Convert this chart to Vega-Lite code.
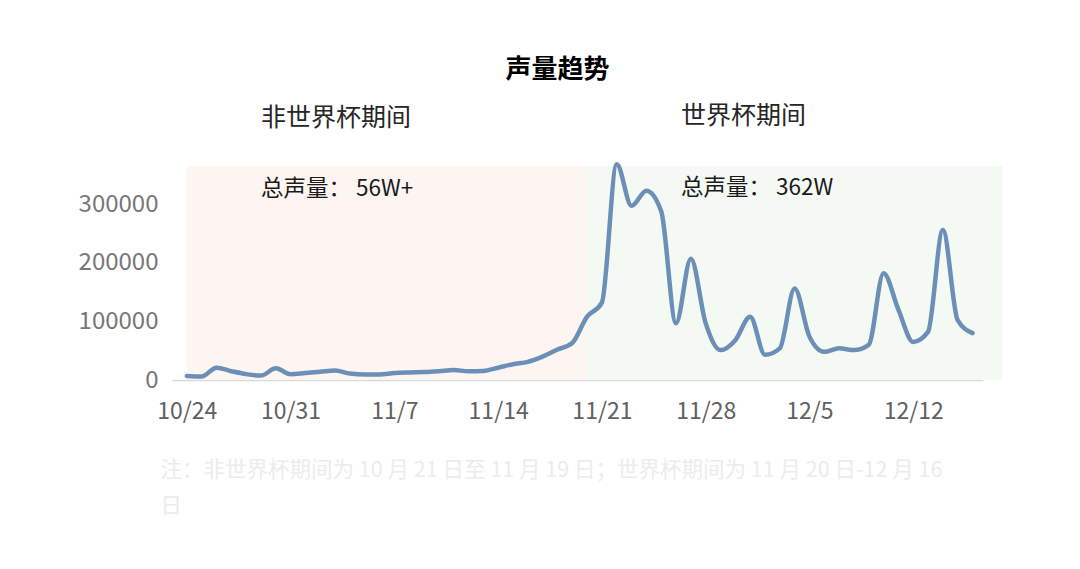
{
  "$schema": "https://vega.github.io/schema/vega-lite/v6.json",
  "width": 811,
  "height": 214,
  "autosize": {"type": "none"},
  "padding": {"left": 172, "top": 166, "right": 97, "bottom": 189},
  "background": "white",
  "title": {
    "text": "声量趋势",
    "font": "Noto Sans CJK SC",
    "fontSize": 26,
    "fontWeight": "bold",
    "color": "#000000",
    "anchor": "middle",
    "frame": "group",
    "baseline": "bottom",
    "dx": -20,
    "offset": -5
  },
  "config": {
    "view": {"stroke": null},
    "font": "Noto Sans CJK SC"
  },
  "datasets": {
    "periods": [
      {"period": "非世界杯期间", "start": "2022-10-24", "end": "2022-11-20"},
      {"period": "世界杯期间", "start": "2022-11-20", "end": "2022-12-18"}
    ],
    "notes": [
      {"date": "2022-10-29T00:00:00Z", "value": 447000, "label": "非世界杯期间", "kind": "head"},
      {"date": "2022-11-26T08:00:00Z", "value": 450000, "label": "世界杯期间", "kind": "head"},
      {"date": "2022-10-29T00:00:00Z", "value": 326000, "label": "总声量： 56W+", "kind": "total"},
      {"date": "2022-11-26T08:00:00Z", "value": 328000, "label": "总声量： 362W", "kind": "total"}
    ],
    "volume": [
      {"date": "2022-10-24", "volume": 7000},
      {"date": "2022-10-25", "volume": 6000},
      {"date": "2022-10-26", "volume": 21000},
      {"date": "2022-10-27", "volume": 15000},
      {"date": "2022-10-28", "volume": 10000},
      {"date": "2022-10-29", "volume": 7500},
      {"date": "2022-10-30", "volume": 20000},
      {"date": "2022-10-31", "volume": 10000},
      {"date": "2022-11-01", "volume": 12000},
      {"date": "2022-11-02", "volume": 14000},
      {"date": "2022-11-03", "volume": 16000},
      {"date": "2022-11-04", "volume": 11000},
      {"date": "2022-11-05", "volume": 9500},
      {"date": "2022-11-06", "volume": 9500},
      {"date": "2022-11-07", "volume": 12000},
      {"date": "2022-11-08", "volume": 13000},
      {"date": "2022-11-09", "volume": 13500},
      {"date": "2022-11-10", "volume": 15000},
      {"date": "2022-11-11", "volume": 17000},
      {"date": "2022-11-12", "volume": 15000},
      {"date": "2022-11-13", "volume": 15500},
      {"date": "2022-11-14", "volume": 21000},
      {"date": "2022-11-15", "volume": 27000},
      {"date": "2022-11-16", "volume": 31000},
      {"date": "2022-11-17", "volume": 40000},
      {"date": "2022-11-18", "volume": 52000},
      {"date": "2022-11-19", "volume": 63000},
      {"date": "2022-11-20", "volume": 108000},
      {"date": "2022-11-21", "volume": 132000},
      {"date": "2022-11-22", "volume": 368000},
      {"date": "2022-11-23", "volume": 297000},
      {"date": "2022-11-24", "volume": 323000},
      {"date": "2022-11-25", "volume": 288000},
      {"date": "2022-11-26", "volume": 97000},
      {"date": "2022-11-27", "volume": 207000},
      {"date": "2022-11-28", "volume": 97000},
      {"date": "2022-11-29", "volume": 51000},
      {"date": "2022-11-30", "volume": 68000},
      {"date": "2022-12-01", "volume": 108000},
      {"date": "2022-12-02", "volume": 43000},
      {"date": "2022-12-03", "volume": 54000},
      {"date": "2022-12-04", "volume": 156000},
      {"date": "2022-12-05", "volume": 74000},
      {"date": "2022-12-06", "volume": 48000},
      {"date": "2022-12-07", "volume": 54000},
      {"date": "2022-12-08", "volume": 51000},
      {"date": "2022-12-09", "volume": 60000},
      {"date": "2022-12-10", "volume": 182000},
      {"date": "2022-12-11", "volume": 120000},
      {"date": "2022-12-12", "volume": 65000},
      {"date": "2022-12-13", "volume": 82000},
      {"date": "2022-12-14", "volume": 256000},
      {"date": "2022-12-15", "volume": 102000},
      {"date": "2022-12-16", "volume": 80000}
    ]
  },
  "layer": [
    {
      "data": {"name": "periods"},
      "mark": {"type": "rect", "clip": false},
      "encoding": {
        "x": {"field": "start", "type": "temporal"},
        "x2": {"field": "end"},
        "color": {
          "field": "period",
          "type": "nominal",
          "scale": {"domain": ["非世界杯期间", "世界杯期间"], "range": ["#fdf5f2", "#f5f9f3"]},
          "legend": null
        }
      }
    },
    {
      "data": {"name": "volume"},
      "mark": {"type": "line", "interpolate": "monotone", "color": "#6b8fb6", "strokeWidth": 4.5, "strokeCap": "round", "strokeJoin": "round"},
      "encoding": {
        "x": {
          "field": "date",
          "type": "temporal",
          "scale": {
            "type": "utc",
            "domain": [
              {"year": 2022, "month": 10, "date": 23, "utc": true},
              {"year": 2022, "month": 12, "date": 16, "hours": 17, "utc": true}
            ]
          },
          "axis": {
            "values": [
              {"year": 2022, "month": 10, "date": 24, "utc": true},
              {"year": 2022, "month": 10, "date": 31, "utc": true},
              {"year": 2022, "month": 11, "date": 7, "utc": true},
              {"year": 2022, "month": 11, "date": 14, "utc": true},
              {"year": 2022, "month": 11, "date": 21, "utc": true},
              {"year": 2022, "month": 11, "date": 28, "utc": true},
              {"year": 2022, "month": 12, "date": 5, "utc": true},
              {"year": 2022, "month": 12, "date": 12, "utc": true}
            ],
            "format": "%-m/%-d",
            "labelFont": "Noto Sans CJK SC",
            "labelFontSize": 23,
            "labelColor": "#606060",
            "labelPadding": 20,
            "ticks": false,
            "tickSize": 0,
            "grid": false,
            "domainColor": "#d9d9d9",
            "domainWidth": 1.5,
            "title": ["注：非世界杯期间为 10 月 21 日至 11 月 19 日；世界杯期间为 11 月 20 日-12 月 16", "日"],
            "titleFont": "Noto Sans CJK SC",
            "titleFontSize": 21.5,
            "titleFontWeight": "normal",
            "titleColor": "#ececec",
            "titleAnchor": "start",
            "titleAlign": "left",
            "titleBaseline": "middle",
            "titleX": -12,
            "titleY": 90,
            "titleLineHeight": 36
          }
        },
        "y": {
          "field": "volume",
          "type": "quantitative",
          "scale": {"domain": [0, 365000], "nice": false},
          "axis": {
            "values": [0, 100000, 200000, 300000],
            "format": "d",
            "labelFont": "Noto Sans CJK SC",
            "labelFontSize": 24,
            "labelColor": "#777777",
            "labelPadding": 14,
            "ticks": false,
            "tickSize": 0,
            "domain": false,
            "grid": false,
            "title": null
          }
        }
      }
    },
    {
      "data": {"name": "notes"},
      "transform": [{"filter": "datum.kind === 'head'"}],
      "mark": {"type": "text", "align": "left", "baseline": "middle", "font": "Noto Sans CJK SC", "fontSize": 25, "color": "#262626"},
      "encoding": {
        "x": {"field": "date", "type": "temporal"},
        "y": {"field": "value", "type": "quantitative"},
        "text": {"field": "label"}
      }
    },
    {
      "data": {"name": "notes"},
      "transform": [{"filter": "datum.kind === 'total'"}],
      "mark": {"type": "text", "align": "left", "baseline": "middle", "font": "Noto Sans CJK SC", "fontSize": 22.5, "color": "#1a1a1a"},
      "encoding": {
        "x": {"field": "date", "type": "temporal"},
        "y": {"field": "value", "type": "quantitative"},
        "text": {"field": "label"}
      }
    }
  ]
}
